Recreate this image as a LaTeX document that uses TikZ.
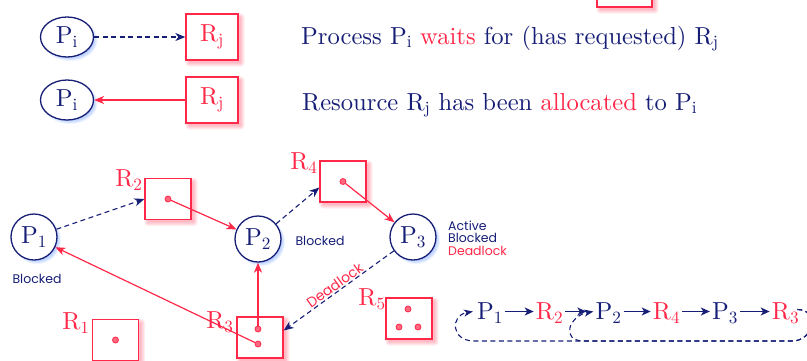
\documentclass[tikz,border=0pt]{standalone}
\usepackage{fontspec}
\newfontfamily\labelfont{Poppins}
\newfontfamily\cmfont{lmroman10-regular.otf}
\usetikzlibrary{arrows.meta,shapes.geometric,backgrounds}
\definecolor{navy}{RGB}{22,30,118}
\definecolor{myred}{RGB}{255,40,72}
\definecolor{glowblue}{RGB}{70,130,255}
\definecolor{glowred}{RGB}{255,90,115}
\newcommand\bigtext{\cmfont\fontsize{24.6}{28}\selectfont}
\tikzset{
  proc/.style={circle, draw=navy, line width=1.3pt, fill=white, minimum size=46pt, inner sep=0pt, text=navy, font=\bigtext},
  procE/.style={ellipse, draw=navy, line width=1.3pt, fill=white, minimum width=53pt, minimum height=40pt, inner sep=0pt, text=navy, font=\bigtext},
  res/.style={rectangle, draw=myred, line width=1.3pt, fill=white, minimum width=46pt, minimum height=41pt, inner sep=0pt},
  resbig/.style={res, minimum width=52pt, minimum height=46pt, text=myred, font=\bigtext},
  unitdot/.style={circle, draw=myred, fill=myred!70, line width=0.8pt, inner sep=0pt, minimum size=6pt},
  rlabel/.style={text=myred, font=\bigtext, inner sep=0pt},
  note/.style={text=navy, font=\labelfont\fontsize{12.5}{12.5}\selectfont, inner sep=0pt},
  bigline/.style={text=navy, font=\bigtext, inner sep=0pt},
  req/.style={draw=navy, line width=1.1pt, dash pattern=on 5pt off 3.5pt, -{Stealth[length=10pt,width=8pt,inset=3pt]}},
  alloc/.style={draw=myred, line width=1.2pt, -{Stealth[length=10pt,width=8pt,inset=3pt]}},
  chainarrow/.style={draw=navy, line width=1.5pt, -{Stealth[length=9pt,width=8pt,inset=2.5pt]}},
  chainnode/.style={font=\bigtext, inner sep=2pt, text height=16pt, text depth=0pt, anchor=base},
  loopline/.style={draw=navy, line width=1.1pt, dash pattern=on 5pt off 3.5pt, -{Stealth[length=9pt,width=7pt,inset=2.5pt]}},
}
\begin{document}
\begin{tikzpicture}[x=1pt,y=-1pt]
\path[use as bounding box] (0,0) rectangle (807,360);
\clip (0,0) rectangle (807,360);

% ---------- legend ----------
\node[procE] (pi1) at (67,37) {P\textsubscript{i}};
\node[resbig] (rj1) at (212,37) {R\textsubscript{j}};
\node[procE] (pi2) at (67,100) {P\textsubscript{i}};
\node[resbig] (rj2) at (212,100) {R\textsubscript{j}};
\draw[req] (pi1) -- (rj1);
\draw[alloc] (rj2) -- (pi2);
\node[bigline, anchor=base west] (t1) at (301,44) {Process P\textsubscript{i} \textcolor{myred}{waits} for (has requested) R\textsubscript{j}};
\node[bigline, anchor=base west] (t2) at (302,110) {Resource R\textsubscript{j} has been \textcolor{myred}{allocated} to P\textsubscript{i}};
\node[res, minimum width=55pt, minimum height=40pt] (frag) at (624.5,-13) {};

% ---------- graph ----------
\node[proc] (p1) at (34,237) {P\textsubscript{1}};
\node[proc] (p2) at (258,239) {P\textsubscript{2}};
\node[proc] (p3) at (413,237) {P\textsubscript{3}};

\node[res] (r2) at (168,199) {};
\node[res] (r4) at (343,181.5) {};
\node[res] (r3) at (260,337.5) {};
\node[res] (r1) at (115.5,340) {};
\node[res] (r5) at (409,318.5) {};

\node[unitdot] (d2) at (r2.center) {};
\node[unitdot] (d4) at (r4.center) {};
\node[unitdot] (d3a) at ([shift={(-2,-8.5)}]r3.center) {};
\node[unitdot] (d3b) at ([shift={(-2,6.5)}]r3.center) {};
\node[unitdot] (d1) at (r1.center) {};
\node[unitdot] (d5a) at ([shift={(-1,-9.5)}]r5.center) {};
\node[unitdot] (d5b) at ([shift={(-10,8.5)}]r5.center) {};
\node[unitdot] (d5c) at ([shift={(9,8.5)}]r5.center) {};

\node[rlabel] (l2) at (129,180) {R\textsubscript{2}};
\node[rlabel] (l4) at (304,163) {R\textsubscript{4}};
\node[rlabel] (l3) at (220,322) {R\textsubscript{3}};
\node[rlabel] (l1) at (76,323) {R\textsubscript{1}};
\node[rlabel] (l5) at (372,299) {R\textsubscript{5}};

\node[note] (b1) at (37,279) {Blocked};
\node[note] (b2) at (320,241) {Blocked};
\node[note, anchor=west, align=left] (b3) at (448,238) {Active\\Blocked\\\textcolor{myred}{Deadlock}};

\draw[req] (p1) -- (r2.west);
\draw[alloc] (d2) -- (p2);
\draw[req] (p2) -- ([shift={(0,6)}]r4.west);
\draw[alloc] (d4) -- (p3);
\draw[req] (p3) -- node[sloped, above=0pt, text=myred, font=\labelfont\fontsize{14}{14}\selectfont, inner sep=1pt] (dl) {Deadlock} ([shift={(0,-7)}]r3.east);
\draw[alloc] (d3a) -- (p2);
\draw[alloc] (d3b) -- (p1);

% ---------- chain ----------
\node[chainnode, text=navy] (cp1) at (490,319.5) {P\textsubscript{1}};
\node[chainnode, text=myred] (cr2) at (549.5,319.5) {R\textsubscript{2}};
\node[chainnode, text=navy] (cp2) at (608.5,319.5) {P\textsubscript{2}};
\node[chainnode, text=myred] (cr4) at (666.5,319.5) {R\textsubscript{4}};
\node[chainnode, text=navy] (cp3) at (725,319.5) {P\textsubscript{3}};
\node[chainnode, text=myred] (cr3) at (785.5,319.5) {R\textsubscript{3}};
\draw[chainarrow] (cp1) -- (cr2);
\draw[chainarrow] (cr2) -- ([shift={(-7,0)}]cp2.west);
\draw[chainarrow] (cp2) -- (cr4);
\draw[chainarrow] (cr4) -- (cp3);
\draw[chainarrow] (cp3) -- (cr3);
\coordinate (lb1) at (792,341);
\coordinate (lb2) at (474,341);
\coordinate (lb3) at (584,341);
\draw[loopline] ([shift={(-4,-2)}]cr3.east) to[out=0,in=0,looseness=1.8] (lb1) -- (lb2) to[out=180,in=190,looseness=2] ([shift={(-2,0)}]cp1.west);
\draw[loopline] ([shift={(-4,-2)}]cr3.east) to[out=0,in=0,looseness=1.8] (lb1) -- (lb3) to[out=180,in=190,looseness=2] (cp2.west);

% ---------- glows ----------
\begin{scope}[on background layer]
  \foreach \n in {p1,p2,p3}{
    \foreach \k in {0,...,5}{
      \fill[glowblue, opacity=0.1] ([shift={(3,3)}]\n.center) circle[radius=19pt+\k pt];
    }
  }
  \foreach \n in {pi1,pi2}{
    \foreach \k in {0,...,5}{
      \fill[glowblue, opacity=0.1] ([shift={(3,3)}]\n.center) circle[x radius=22.5pt+\k pt, y radius=16pt+\k pt];
    }
  }
  \foreach \n in {r1,r2,r3,r4,r5,rj1,rj2,frag}{
    \foreach \k in {-1,...,3}{
      \fill[glowred, opacity=0.1, rounded corners=1pt+\k pt] ([shift={(3-\k,3-\k)}]\n.north west) rectangle ([shift={(3+\k,3+\k)}]\n.south east);
    }
  }
\end{scope}
\end{tikzpicture}
\end{document}
